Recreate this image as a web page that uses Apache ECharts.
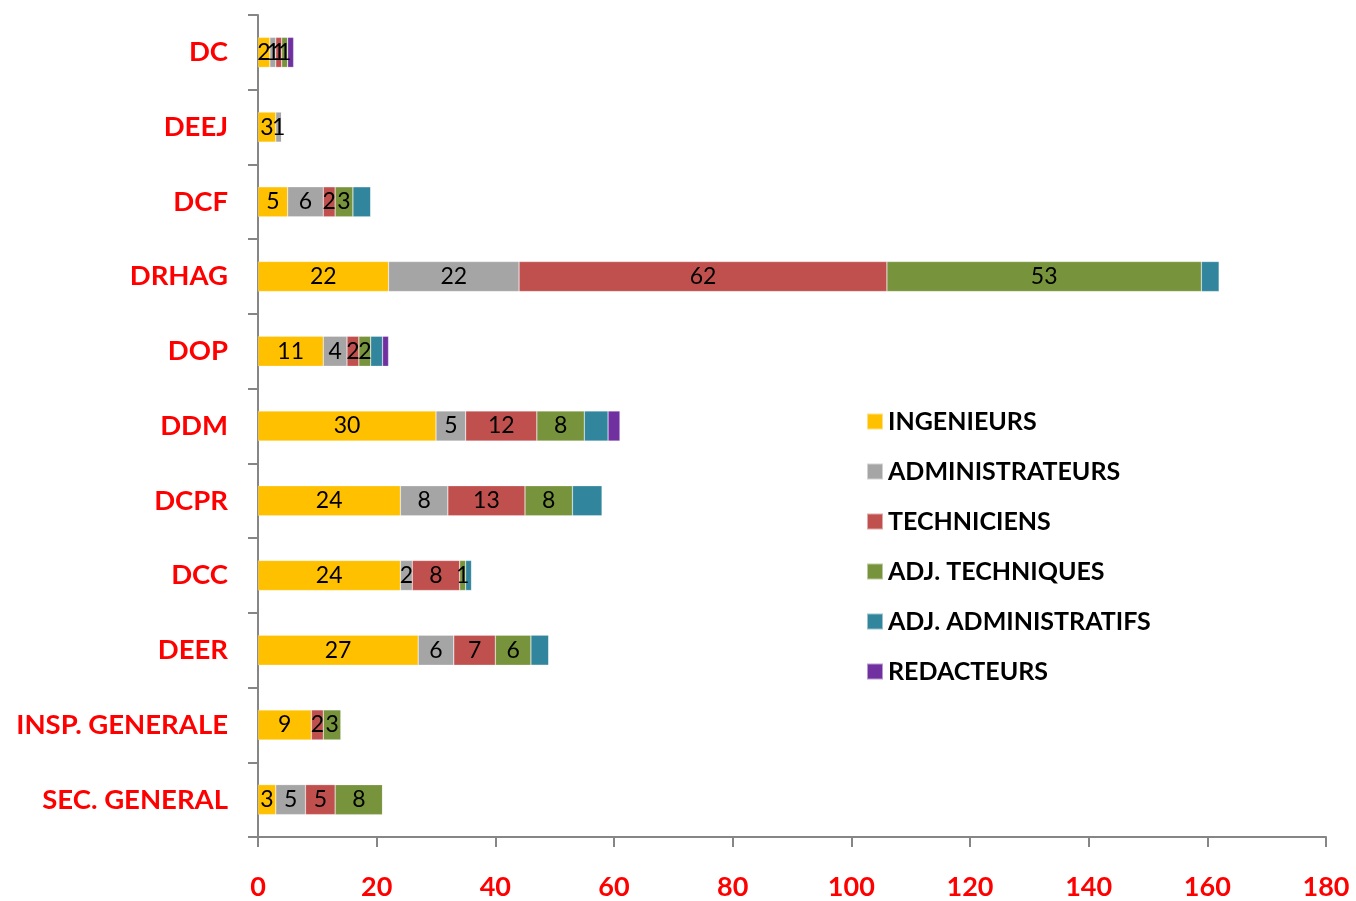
<!DOCTYPE html>
<html><head><meta charset="utf-8">
<script src="https://cdn.jsdelivr.net/npm/echarts@6/dist/echarts.min.js"></script>
<style>html,body{margin:0;padding:0;background:#fff}#c{width:1356px;height:901px}</style>
</head><body><div id="c"></div>
<script>
const categories = ['DC','DEEJ','DCF','DRHAG','DOP','DDM','DCPR','DCC','DEER','INSP. GENERALE','SEC. GENERAL'];
const ingenieurs      = [2, 3, 5, 22, 11, 30, 24, 24, 27, 9, 3];
const administrateurs = [1, 1, 6, 22, 4, 5, 8, 2, 6, 0, 5];
const techniciens     = [1, 0, 2, 62, 2, 12, 13, 8, 7, 2, 5];
const adjTechniques   = [1, 0, 3, 53, 2, 8, 8, 1, 6, 3, 8];
const adjAdmin        = [0, 0, 3, 3, 2, 4, 5, 1, 3, 0, 0];
const redacteurs      = [1, 0, 0, 0, 1, 2, 0, 0, 0, 0, 0];
const xTicks = [0, 20, 40, 60, 80, 100, 120, 140, 160, 180];

const seriesDefs = [
  {name:'INGENIEURS', data:ingenieurs, color:'#FFC000', label:true},
  {name:'ADMINISTRATEURS', data:administrateurs, color:'#A5A5A5', label:true},
  {name:'TECHNICIENS', data:techniciens, color:'#C0504D', label:true},
  {name:'ADJ. TECHNIQUES', data:adjTechniques, color:'#77933C', label:true},
  {name:'ADJ. ADMINISTRATIFS', data:adjAdmin, color:'#31859C', label:false},
  {name:'REDACTEURS', data:redacteurs, color:'#7030A0', label:false}
];
const font = 'Lato, "Open Sans", sans-serif';
const chart = echarts.init(document.getElementById('c'));
chart.setOption({
  animation:false,
  grid:{left:258, right:30, top:15, bottom:62, containLabel:false},
  legend:{
    orient:'vertical', left:861, top:404, itemWidth:16, itemHeight:16, itemGap:25,
    icon:'rect',
    textStyle:{fontFamily:font, fontSize:25, fontWeight:'bold', color:'#000', lineHeight:25},
    data: seriesDefs.map(s=>s.name)
  },
  xAxis:{
    type:'value', min:0, max:180, interval:20,
    axisLine:{show:true, lineStyle:{color:'#868686', width:2}},
    axisTick:{show:true, length:10, lineStyle:{color:'#868686', width:2}},
    splitLine:{show:false},
    axisLabel:{margin:37, color:'#FF0000', fontFamily:font, fontSize:27, fontWeight:'bold',
      formatter:v=> xTicks.includes(v) ? String(v) : ''}
  },
  yAxis:{
    type:'category', data:categories, inverse:true,
    axisLine:{show:true, lineStyle:{color:'#868686', width:2}},
    axisTick:{show:true, length:10, lineStyle:{color:'#868686', width:2}},
    axisLabel:{margin:30, color:'#FF0000', fontFamily:font, fontSize:27.5, fontWeight:'bold'}
  },
  series: seriesDefs.map(s=>({
    name:s.name, type:'bar', stack:'total', data:s.data, barWidth:30,
    itemStyle:{color:s.color, borderColor:'rgba(255,255,255,0.5)', borderWidth:0.5},
    label:{show:s.label, position:'inside', color:'#000', fontFamily:font, fontSize:23,
      formatter:p=> p.value ? String(p.value) : ''}
  }))
});
</script></body></html>
